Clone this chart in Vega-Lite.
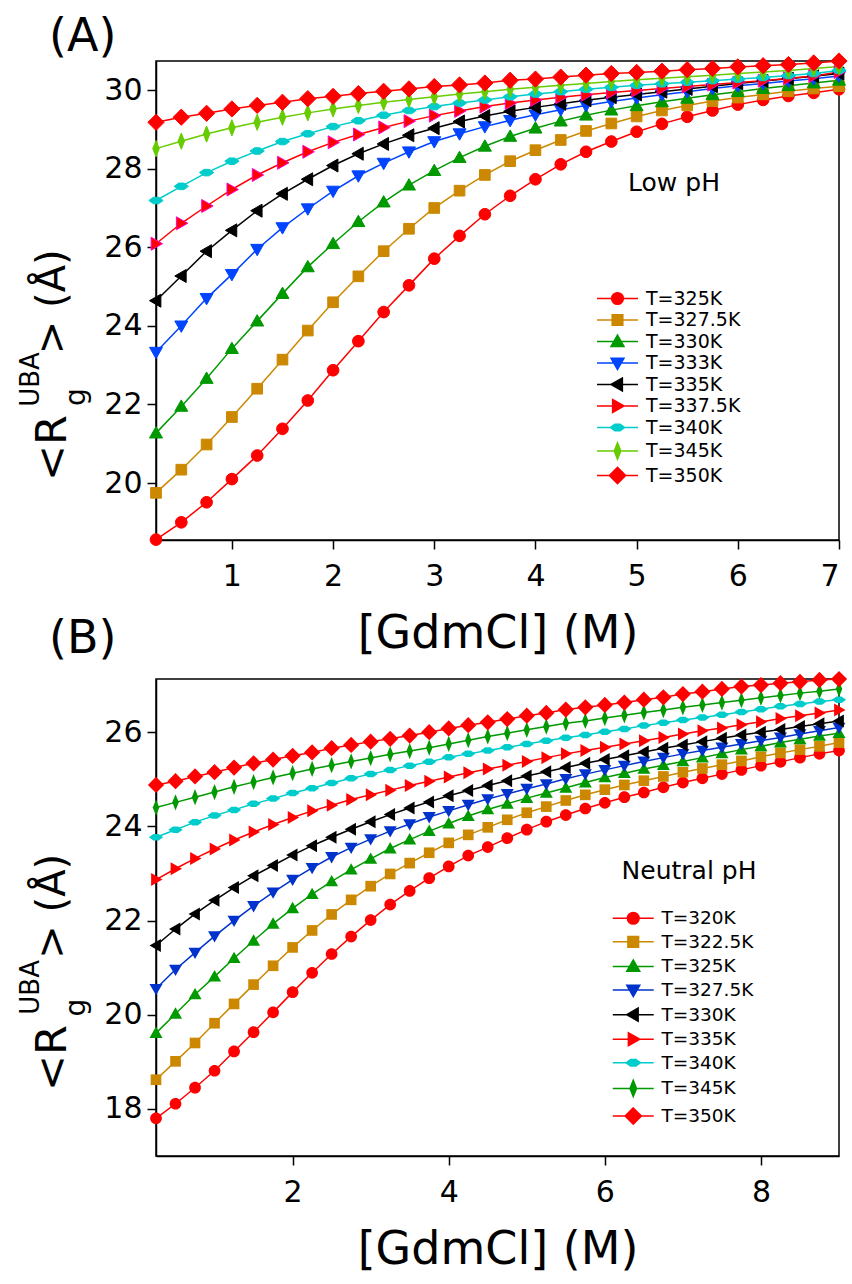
{
"$schema":"https://vega.github.io/schema/vega-lite/v6.json",
"padding":{"left":17,"top":13,"right":4,"bottom":4},
"spacing":139,
"bounds":"flush",
"datasets":{
"a":[
{"s":"T=325K","x":0.25,"y":18.56},{"s":"T=325K","x":0.5,"y":19.0},{"s":"T=325K","x":0.75,"y":19.51},{"s":"T=325K","x":1,"y":20.1},{"s":"T=325K","x":1.25,"y":20.7},{"s":"T=325K","x":1.5,"y":21.38},{"s":"T=325K","x":1.75,"y":22.1},{"s":"T=325K","x":2,"y":22.87},{"s":"T=325K","x":2.25,"y":23.61},{"s":"T=325K","x":2.5,"y":24.35},{"s":"T=325K","x":2.75,"y":25.03},{"s":"T=325K","x":3,"y":25.71},{"s":"T=325K","x":3.25,"y":26.29},{"s":"T=325K","x":3.5,"y":26.84},{"s":"T=325K","x":3.75,"y":27.31},{"s":"T=325K","x":4,"y":27.73},{"s":"T=325K","x":4.25,"y":28.11},{"s":"T=325K","x":4.5,"y":28.43},{"s":"T=325K","x":4.75,"y":28.69},{"s":"T=325K","x":5,"y":28.94},{"s":"T=325K","x":5.25,"y":29.14},{"s":"T=325K","x":5.5,"y":29.32},{"s":"T=325K","x":5.75,"y":29.48},{"s":"T=325K","x":6,"y":29.63},{"s":"T=325K","x":6.25,"y":29.75},{"s":"T=325K","x":6.5,"y":29.85},{"s":"T=325K","x":6.75,"y":29.93},{"s":"T=325K","x":7,"y":30.02},
{"s":"T=327.5K","x":0.25,"y":19.75},{"s":"T=327.5K","x":0.5,"y":20.34},{"s":"T=327.5K","x":0.75,"y":20.98},{"s":"T=327.5K","x":1,"y":21.68},{"s":"T=327.5K","x":1.25,"y":22.4},{"s":"T=327.5K","x":1.5,"y":23.14},{"s":"T=327.5K","x":1.75,"y":23.88},{"s":"T=327.5K","x":2,"y":24.6},{"s":"T=327.5K","x":2.25,"y":25.26},{"s":"T=327.5K","x":2.5,"y":25.9},{"s":"T=327.5K","x":2.75,"y":26.47},{"s":"T=327.5K","x":3,"y":27.0},{"s":"T=327.5K","x":3.25,"y":27.44},{"s":"T=327.5K","x":3.5,"y":27.84},{"s":"T=327.5K","x":3.75,"y":28.19},{"s":"T=327.5K","x":4,"y":28.47},{"s":"T=327.5K","x":4.25,"y":28.73},{"s":"T=327.5K","x":4.5,"y":28.96},{"s":"T=327.5K","x":4.75,"y":29.15},{"s":"T=327.5K","x":5,"y":29.33},{"s":"T=327.5K","x":5.25,"y":29.48},{"s":"T=327.5K","x":5.5,"y":29.61},{"s":"T=327.5K","x":5.75,"y":29.72},{"s":"T=327.5K","x":6,"y":29.81},{"s":"T=327.5K","x":6.25,"y":29.89},{"s":"T=327.5K","x":6.5,"y":29.97},{"s":"T=327.5K","x":6.75,"y":30.04},{"s":"T=327.5K","x":7,"y":30.1},
{"s":"T=330K","x":0.25,"y":21.27},{"s":"T=330K","x":0.5,"y":21.95},{"s":"T=330K","x":0.75,"y":22.66},{"s":"T=330K","x":1,"y":23.42},{"s":"T=330K","x":1.25,"y":24.12},{"s":"T=330K","x":1.5,"y":24.82},{"s":"T=330K","x":1.75,"y":25.5},{"s":"T=330K","x":2,"y":26.09},{"s":"T=330K","x":2.25,"y":26.65},{"s":"T=330K","x":2.5,"y":27.15},{"s":"T=330K","x":2.75,"y":27.58},{"s":"T=330K","x":3,"y":27.95},{"s":"T=330K","x":3.25,"y":28.28},{"s":"T=330K","x":3.5,"y":28.57},{"s":"T=330K","x":3.75,"y":28.82},{"s":"T=330K","x":4,"y":29.03},{"s":"T=330K","x":4.25,"y":29.21},{"s":"T=330K","x":4.5,"y":29.36},{"s":"T=330K","x":4.75,"y":29.49},{"s":"T=330K","x":5,"y":29.6},{"s":"T=330K","x":5.25,"y":29.7},{"s":"T=330K","x":5.5,"y":29.79},{"s":"T=330K","x":5.75,"y":29.88},{"s":"T=330K","x":6,"y":29.96},{"s":"T=330K","x":6.25,"y":30.04},{"s":"T=330K","x":6.5,"y":30.11},{"s":"T=330K","x":6.75,"y":30.18},{"s":"T=330K","x":7,"y":30.25},
{"s":"T=333K","x":0.25,"y":23.33},{"s":"T=333K","x":0.5,"y":24.0},{"s":"T=333K","x":0.75,"y":24.7},{"s":"T=333K","x":1,"y":25.31},{"s":"T=333K","x":1.25,"y":25.95},{"s":"T=333K","x":1.5,"y":26.5},{"s":"T=333K","x":1.75,"y":26.98},{"s":"T=333K","x":2,"y":27.43},{"s":"T=333K","x":2.25,"y":27.82},{"s":"T=333K","x":2.5,"y":28.14},{"s":"T=333K","x":2.75,"y":28.43},{"s":"T=333K","x":3,"y":28.69},{"s":"T=333K","x":3.25,"y":28.89},{"s":"T=333K","x":3.5,"y":29.07},{"s":"T=333K","x":3.75,"y":29.23},{"s":"T=333K","x":4,"y":29.37},{"s":"T=333K","x":4.25,"y":29.5},{"s":"T=333K","x":4.5,"y":29.61},{"s":"T=333K","x":4.75,"y":29.71},{"s":"T=333K","x":5,"y":29.8},{"s":"T=333K","x":5.25,"y":29.88},{"s":"T=333K","x":5.5,"y":29.96},{"s":"T=333K","x":5.75,"y":30.04},{"s":"T=333K","x":6,"y":30.11},{"s":"T=333K","x":6.25,"y":30.17},{"s":"T=333K","x":6.5,"y":30.23},{"s":"T=333K","x":6.75,"y":30.29},{"s":"T=333K","x":7,"y":30.36},
{"s":"T=335K","x":0.25,"y":24.64},{"s":"T=335K","x":0.5,"y":25.27},{"s":"T=335K","x":0.75,"y":25.9},{"s":"T=335K","x":1,"y":26.43},{"s":"T=335K","x":1.25,"y":26.93},{"s":"T=335K","x":1.5,"y":27.36},{"s":"T=335K","x":1.75,"y":27.73},{"s":"T=335K","x":2,"y":28.08},{"s":"T=335K","x":2.25,"y":28.38},{"s":"T=335K","x":2.5,"y":28.63},{"s":"T=335K","x":2.75,"y":28.85},{"s":"T=335K","x":3,"y":29.03},{"s":"T=335K","x":3.25,"y":29.2},{"s":"T=335K","x":3.5,"y":29.34},{"s":"T=335K","x":3.75,"y":29.46},{"s":"T=335K","x":4,"y":29.56},{"s":"T=335K","x":4.25,"y":29.65},{"s":"T=335K","x":4.5,"y":29.74},{"s":"T=335K","x":4.75,"y":29.82},{"s":"T=335K","x":5,"y":29.89},{"s":"T=335K","x":5.25,"y":29.96},{"s":"T=335K","x":5.5,"y":30.03},{"s":"T=335K","x":5.75,"y":30.1},{"s":"T=335K","x":6,"y":30.17},{"s":"T=335K","x":6.25,"y":30.23},{"s":"T=335K","x":6.5,"y":30.29},{"s":"T=335K","x":6.75,"y":30.35},{"s":"T=335K","x":7,"y":30.42},
{"s":"T=337.5K","x":0.25,"y":26.09},{"s":"T=337.5K","x":0.5,"y":26.61},{"s":"T=337.5K","x":0.75,"y":27.05},{"s":"T=337.5K","x":1,"y":27.47},{"s":"T=337.5K","x":1.25,"y":27.84},{"s":"T=337.5K","x":1.5,"y":28.15},{"s":"T=337.5K","x":1.75,"y":28.43},{"s":"T=337.5K","x":2,"y":28.67},{"s":"T=337.5K","x":2.25,"y":28.87},{"s":"T=337.5K","x":2.5,"y":29.05},{"s":"T=337.5K","x":2.75,"y":29.21},{"s":"T=337.5K","x":3,"y":29.35},{"s":"T=337.5K","x":3.25,"y":29.47},{"s":"T=337.5K","x":3.5,"y":29.58},{"s":"T=337.5K","x":3.75,"y":29.67},{"s":"T=337.5K","x":4,"y":29.75},{"s":"T=337.5K","x":4.25,"y":29.82},{"s":"T=337.5K","x":4.5,"y":29.88},{"s":"T=337.5K","x":4.75,"y":29.94},{"s":"T=337.5K","x":5,"y":29.99},{"s":"T=337.5K","x":5.25,"y":30.04},{"s":"T=337.5K","x":5.5,"y":30.09},{"s":"T=337.5K","x":5.75,"y":30.14},{"s":"T=337.5K","x":6,"y":30.19},{"s":"T=337.5K","x":6.25,"y":30.24},{"s":"T=337.5K","x":6.5,"y":30.3},{"s":"T=337.5K","x":6.75,"y":30.36},{"s":"T=337.5K","x":7,"y":30.46},
{"s":"T=340K","x":0.25,"y":27.19},{"s":"T=340K","x":0.5,"y":27.55},{"s":"T=340K","x":0.75,"y":27.9},{"s":"T=340K","x":1,"y":28.19},{"s":"T=340K","x":1.25,"y":28.45},{"s":"T=340K","x":1.5,"y":28.69},{"s":"T=340K","x":1.75,"y":28.89},{"s":"T=340K","x":2,"y":29.07},{"s":"T=340K","x":2.25,"y":29.22},{"s":"T=340K","x":2.5,"y":29.36},{"s":"T=340K","x":2.75,"y":29.48},{"s":"T=340K","x":3,"y":29.58},{"s":"T=340K","x":3.25,"y":29.67},{"s":"T=340K","x":3.5,"y":29.75},{"s":"T=340K","x":3.75,"y":29.83},{"s":"T=340K","x":4,"y":29.9},{"s":"T=340K","x":4.25,"y":29.96},{"s":"T=340K","x":4.5,"y":30.02},{"s":"T=340K","x":4.75,"y":30.07},{"s":"T=340K","x":5,"y":30.12},{"s":"T=340K","x":5.25,"y":30.16},{"s":"T=340K","x":5.5,"y":30.2},{"s":"T=340K","x":5.75,"y":30.24},{"s":"T=340K","x":6,"y":30.28},{"s":"T=340K","x":6.25,"y":30.32},{"s":"T=340K","x":6.5,"y":30.37},{"s":"T=340K","x":6.75,"y":30.42},{"s":"T=340K","x":7,"y":30.5},
{"s":"T=345K","x":0.25,"y":28.51},{"s":"T=345K","x":0.5,"y":28.7},{"s":"T=345K","x":0.75,"y":28.88},{"s":"T=345K","x":1,"y":29.04},{"s":"T=345K","x":1.25,"y":29.18},{"s":"T=345K","x":1.5,"y":29.31},{"s":"T=345K","x":1.75,"y":29.42},{"s":"T=345K","x":2,"y":29.52},{"s":"T=345K","x":2.25,"y":29.61},{"s":"T=345K","x":2.5,"y":29.69},{"s":"T=345K","x":2.75,"y":29.76},{"s":"T=345K","x":3,"y":29.83},{"s":"T=345K","x":3.25,"y":29.9},{"s":"T=345K","x":3.5,"y":29.96},{"s":"T=345K","x":3.75,"y":30.02},{"s":"T=345K","x":4,"y":30.07},{"s":"T=345K","x":4.25,"y":30.12},{"s":"T=345K","x":4.5,"y":30.17},{"s":"T=345K","x":4.75,"y":30.22},{"s":"T=345K","x":5,"y":30.26},{"s":"T=345K","x":5.25,"y":30.3},{"s":"T=345K","x":5.5,"y":30.34},{"s":"T=345K","x":5.75,"y":30.38},{"s":"T=345K","x":6,"y":30.42},{"s":"T=345K","x":6.25,"y":30.46},{"s":"T=345K","x":6.5,"y":30.5},{"s":"T=345K","x":6.75,"y":30.55},{"s":"T=345K","x":7,"y":30.6},
{"s":"T=350K","x":0.25,"y":29.18},{"s":"T=350K","x":0.5,"y":29.31},{"s":"T=350K","x":0.75,"y":29.41},{"s":"T=350K","x":1,"y":29.52},{"s":"T=350K","x":1.25,"y":29.61},{"s":"T=350K","x":1.5,"y":29.69},{"s":"T=350K","x":1.75,"y":29.78},{"s":"T=350K","x":2,"y":29.84},{"s":"T=350K","x":2.25,"y":29.91},{"s":"T=350K","x":2.5,"y":29.97},{"s":"T=350K","x":2.75,"y":30.03},{"s":"T=350K","x":3,"y":30.09},{"s":"T=350K","x":3.25,"y":30.13},{"s":"T=350K","x":3.5,"y":30.18},{"s":"T=350K","x":3.75,"y":30.25},{"s":"T=350K","x":4,"y":30.28},{"s":"T=350K","x":4.25,"y":30.33},{"s":"T=350K","x":4.5,"y":30.38},{"s":"T=350K","x":4.75,"y":30.42},{"s":"T=350K","x":5,"y":30.45},{"s":"T=350K","x":5.25,"y":30.48},{"s":"T=350K","x":5.5,"y":30.52},{"s":"T=350K","x":5.75,"y":30.55},{"s":"T=350K","x":6,"y":30.59},{"s":"T=350K","x":6.25,"y":30.62},{"s":"T=350K","x":6.5,"y":30.65},{"s":"T=350K","x":6.75,"y":30.69},{"s":"T=350K","x":7,"y":30.74}
],
"b":[
{"s":"T=320K","x":0.25,"y":17.8},{"s":"T=320K","x":0.5,"y":18.11},{"s":"T=320K","x":0.75,"y":18.45},{"s":"T=320K","x":1,"y":18.81},{"s":"T=320K","x":1.25,"y":19.22},{"s":"T=320K","x":1.5,"y":19.63},{"s":"T=320K","x":1.75,"y":20.05},{"s":"T=320K","x":2,"y":20.48},{"s":"T=320K","x":2.25,"y":20.89},{"s":"T=320K","x":2.5,"y":21.29},{"s":"T=320K","x":2.75,"y":21.66},{"s":"T=320K","x":3,"y":22.01},{"s":"T=320K","x":3.25,"y":22.34},{"s":"T=320K","x":3.5,"y":22.63},{"s":"T=320K","x":3.75,"y":22.9},{"s":"T=320K","x":4,"y":23.15},{"s":"T=320K","x":4.25,"y":23.38},{"s":"T=320K","x":4.5,"y":23.56},{"s":"T=320K","x":4.75,"y":23.75},{"s":"T=320K","x":5,"y":23.93},{"s":"T=320K","x":5.25,"y":24.1},{"s":"T=320K","x":5.5,"y":24.24},{"s":"T=320K","x":5.75,"y":24.38},{"s":"T=320K","x":6,"y":24.5},{"s":"T=320K","x":6.25,"y":24.62},{"s":"T=320K","x":6.5,"y":24.72},{"s":"T=320K","x":6.75,"y":24.83},{"s":"T=320K","x":7,"y":24.93},{"s":"T=320K","x":7.25,"y":25.02},{"s":"T=320K","x":7.5,"y":25.11},{"s":"T=320K","x":7.75,"y":25.2},{"s":"T=320K","x":8,"y":25.29},{"s":"T=320K","x":8.25,"y":25.37},{"s":"T=320K","x":8.5,"y":25.46},{"s":"T=320K","x":8.75,"y":25.54},{"s":"T=320K","x":9,"y":25.61},
{"s":"T=322.5K","x":0.25,"y":18.62},{"s":"T=322.5K","x":0.5,"y":19.01},{"s":"T=322.5K","x":0.75,"y":19.4},{"s":"T=322.5K","x":1,"y":19.82},{"s":"T=322.5K","x":1.25,"y":20.23},{"s":"T=322.5K","x":1.5,"y":20.64},{"s":"T=322.5K","x":1.75,"y":21.04},{"s":"T=322.5K","x":2,"y":21.43},{"s":"T=322.5K","x":2.25,"y":21.79},{"s":"T=322.5K","x":2.5,"y":22.13},{"s":"T=322.5K","x":2.75,"y":22.44},{"s":"T=322.5K","x":3,"y":22.73},{"s":"T=322.5K","x":3.25,"y":22.99},{"s":"T=322.5K","x":3.5,"y":23.22},{"s":"T=322.5K","x":3.75,"y":23.44},{"s":"T=322.5K","x":4,"y":23.65},{"s":"T=322.5K","x":4.25,"y":23.82},{"s":"T=322.5K","x":4.5,"y":23.98},{"s":"T=322.5K","x":4.75,"y":24.14},{"s":"T=322.5K","x":5,"y":24.29},{"s":"T=322.5K","x":5.25,"y":24.42},{"s":"T=322.5K","x":5.5,"y":24.55},{"s":"T=322.5K","x":5.75,"y":24.67},{"s":"T=322.5K","x":6,"y":24.78},{"s":"T=322.5K","x":6.25,"y":24.88},{"s":"T=322.5K","x":6.5,"y":24.97},{"s":"T=322.5K","x":6.75,"y":25.06},{"s":"T=322.5K","x":7,"y":25.15},{"s":"T=322.5K","x":7.25,"y":25.23},{"s":"T=322.5K","x":7.5,"y":25.31},{"s":"T=322.5K","x":7.75,"y":25.39},{"s":"T=322.5K","x":8,"y":25.48},{"s":"T=322.5K","x":8.25,"y":25.56},{"s":"T=322.5K","x":8.5,"y":25.63},{"s":"T=322.5K","x":8.75,"y":25.7},{"s":"T=322.5K","x":9,"y":25.78},
{"s":"T=325K","x":0.25,"y":19.61},{"s":"T=325K","x":0.5,"y":20.02},{"s":"T=325K","x":0.75,"y":20.43},{"s":"T=325K","x":1,"y":20.81},{"s":"T=325K","x":1.25,"y":21.2},{"s":"T=325K","x":1.5,"y":21.57},{"s":"T=325K","x":1.75,"y":21.93},{"s":"T=325K","x":2,"y":22.26},{"s":"T=325K","x":2.25,"y":22.56},{"s":"T=325K","x":2.5,"y":22.83},{"s":"T=325K","x":2.75,"y":23.08},{"s":"T=325K","x":3,"y":23.31},{"s":"T=325K","x":3.25,"y":23.53},{"s":"T=325K","x":3.5,"y":23.72},{"s":"T=325K","x":3.75,"y":23.9},{"s":"T=325K","x":4,"y":24.06},{"s":"T=325K","x":4.25,"y":24.22},{"s":"T=325K","x":4.5,"y":24.36},{"s":"T=325K","x":4.75,"y":24.48},{"s":"T=325K","x":5,"y":24.6},{"s":"T=325K","x":5.25,"y":24.71},{"s":"T=325K","x":5.5,"y":24.82},{"s":"T=325K","x":5.75,"y":24.93},{"s":"T=325K","x":6,"y":25.04},{"s":"T=325K","x":6.25,"y":25.13},{"s":"T=325K","x":6.5,"y":25.22},{"s":"T=325K","x":6.75,"y":25.3},{"s":"T=325K","x":7,"y":25.38},{"s":"T=325K","x":7.25,"y":25.46},{"s":"T=325K","x":7.5,"y":25.55},{"s":"T=325K","x":7.75,"y":25.63},{"s":"T=325K","x":8,"y":25.7},{"s":"T=325K","x":8.25,"y":25.78},{"s":"T=325K","x":8.5,"y":25.85},{"s":"T=325K","x":8.75,"y":25.92},{"s":"T=325K","x":9,"y":25.98},
{"s":"T=327.5K","x":0.25,"y":20.55},{"s":"T=327.5K","x":0.5,"y":20.96},{"s":"T=327.5K","x":0.75,"y":21.32},{"s":"T=327.5K","x":1,"y":21.67},{"s":"T=327.5K","x":1.25,"y":22.0},{"s":"T=327.5K","x":1.5,"y":22.31},{"s":"T=327.5K","x":1.75,"y":22.6},{"s":"T=327.5K","x":2,"y":22.87},{"s":"T=327.5K","x":2.25,"y":23.12},{"s":"T=327.5K","x":2.5,"y":23.35},{"s":"T=327.5K","x":2.75,"y":23.55},{"s":"T=327.5K","x":3,"y":23.73},{"s":"T=327.5K","x":3.25,"y":23.9},{"s":"T=327.5K","x":3.5,"y":24.05},{"s":"T=327.5K","x":3.75,"y":24.2},{"s":"T=327.5K","x":4,"y":24.33},{"s":"T=327.5K","x":4.25,"y":24.46},{"s":"T=327.5K","x":4.5,"y":24.58},{"s":"T=327.5K","x":4.75,"y":24.69},{"s":"T=327.5K","x":5,"y":24.8},{"s":"T=327.5K","x":5.25,"y":24.9},{"s":"T=327.5K","x":5.5,"y":25.01},{"s":"T=327.5K","x":5.75,"y":25.11},{"s":"T=327.5K","x":6,"y":25.2},{"s":"T=327.5K","x":6.25,"y":25.29},{"s":"T=327.5K","x":6.5,"y":25.38},{"s":"T=327.5K","x":6.75,"y":25.46},{"s":"T=327.5K","x":7,"y":25.54},{"s":"T=327.5K","x":7.25,"y":25.61},{"s":"T=327.5K","x":7.5,"y":25.68},{"s":"T=327.5K","x":7.75,"y":25.75},{"s":"T=327.5K","x":8,"y":25.82},{"s":"T=327.5K","x":8.25,"y":25.89},{"s":"T=327.5K","x":8.5,"y":25.96},{"s":"T=327.5K","x":8.75,"y":26.03},{"s":"T=327.5K","x":9,"y":26.1},
{"s":"T=330K","x":0.25,"y":21.47},{"s":"T=330K","x":0.5,"y":21.82},{"s":"T=330K","x":0.75,"y":22.14},{"s":"T=330K","x":1,"y":22.43},{"s":"T=330K","x":1.25,"y":22.7},{"s":"T=330K","x":1.5,"y":22.95},{"s":"T=330K","x":1.75,"y":23.17},{"s":"T=330K","x":2,"y":23.39},{"s":"T=330K","x":2.25,"y":23.59},{"s":"T=330K","x":2.5,"y":23.77},{"s":"T=330K","x":2.75,"y":23.94},{"s":"T=330K","x":3,"y":24.1},{"s":"T=330K","x":3.25,"y":24.25},{"s":"T=330K","x":3.5,"y":24.39},{"s":"T=330K","x":3.75,"y":24.52},{"s":"T=330K","x":4,"y":24.65},{"s":"T=330K","x":4.25,"y":24.76},{"s":"T=330K","x":4.5,"y":24.87},{"s":"T=330K","x":4.75,"y":24.97},{"s":"T=330K","x":5,"y":25.07},{"s":"T=330K","x":5.25,"y":25.16},{"s":"T=330K","x":5.5,"y":25.25},{"s":"T=330K","x":5.75,"y":25.34},{"s":"T=330K","x":6,"y":25.42},{"s":"T=330K","x":6.25,"y":25.5},{"s":"T=330K","x":6.5,"y":25.58},{"s":"T=330K","x":6.75,"y":25.66},{"s":"T=330K","x":7,"y":25.73},{"s":"T=330K","x":7.25,"y":25.8},{"s":"T=330K","x":7.5,"y":25.87},{"s":"T=330K","x":7.75,"y":25.94},{"s":"T=330K","x":8,"y":26.0},{"s":"T=330K","x":8.25,"y":26.06},{"s":"T=330K","x":8.5,"y":26.12},{"s":"T=330K","x":8.75,"y":26.18},{"s":"T=330K","x":9,"y":26.24},
{"s":"T=335K","x":0.25,"y":22.87},{"s":"T=335K","x":0.5,"y":23.1},{"s":"T=335K","x":0.75,"y":23.32},{"s":"T=335K","x":1,"y":23.52},{"s":"T=335K","x":1.25,"y":23.71},{"s":"T=335K","x":1.5,"y":23.88},{"s":"T=335K","x":1.75,"y":24.04},{"s":"T=335K","x":2,"y":24.19},{"s":"T=335K","x":2.25,"y":24.33},{"s":"T=335K","x":2.5,"y":24.45},{"s":"T=335K","x":2.75,"y":24.57},{"s":"T=335K","x":3,"y":24.67},{"s":"T=335K","x":3.25,"y":24.77},{"s":"T=335K","x":3.5,"y":24.87},{"s":"T=335K","x":3.75,"y":24.96},{"s":"T=335K","x":4,"y":25.05},{"s":"T=335K","x":4.25,"y":25.14},{"s":"T=335K","x":4.5,"y":25.22},{"s":"T=335K","x":4.75,"y":25.3},{"s":"T=335K","x":5,"y":25.38},{"s":"T=335K","x":5.25,"y":25.46},{"s":"T=335K","x":5.5,"y":25.54},{"s":"T=335K","x":5.75,"y":25.61},{"s":"T=335K","x":6,"y":25.68},{"s":"T=335K","x":6.25,"y":25.75},{"s":"T=335K","x":6.5,"y":25.82},{"s":"T=335K","x":6.75,"y":25.89},{"s":"T=335K","x":7,"y":25.96},{"s":"T=335K","x":7.25,"y":26.03},{"s":"T=335K","x":7.5,"y":26.09},{"s":"T=335K","x":7.75,"y":26.16},{"s":"T=335K","x":8,"y":26.22},{"s":"T=335K","x":8.25,"y":26.29},{"s":"T=335K","x":8.5,"y":26.35},{"s":"T=335K","x":8.75,"y":26.41},{"s":"T=335K","x":9,"y":26.47},
{"s":"T=340K","x":0.25,"y":23.77},{"s":"T=340K","x":0.5,"y":23.93},{"s":"T=340K","x":0.75,"y":24.09},{"s":"T=340K","x":1,"y":24.23},{"s":"T=340K","x":1.25,"y":24.35},{"s":"T=340K","x":1.5,"y":24.48},{"s":"T=340K","x":1.75,"y":24.59},{"s":"T=340K","x":2,"y":24.71},{"s":"T=340K","x":2.25,"y":24.81},{"s":"T=340K","x":2.5,"y":24.92},{"s":"T=340K","x":2.75,"y":25.02},{"s":"T=340K","x":3,"y":25.11},{"s":"T=340K","x":3.25,"y":25.2},{"s":"T=340K","x":3.5,"y":25.29},{"s":"T=340K","x":3.75,"y":25.37},{"s":"T=340K","x":4,"y":25.47},{"s":"T=340K","x":4.25,"y":25.54},{"s":"T=340K","x":4.5,"y":25.61},{"s":"T=340K","x":4.75,"y":25.68},{"s":"T=340K","x":5,"y":25.75},{"s":"T=340K","x":5.25,"y":25.82},{"s":"T=340K","x":5.5,"y":25.88},{"s":"T=340K","x":5.75,"y":25.94},{"s":"T=340K","x":6,"y":26.01},{"s":"T=340K","x":6.25,"y":26.07},{"s":"T=340K","x":6.5,"y":26.14},{"s":"T=340K","x":6.75,"y":26.2},{"s":"T=340K","x":7,"y":26.26},{"s":"T=340K","x":7.25,"y":26.31},{"s":"T=340K","x":7.5,"y":26.37},{"s":"T=340K","x":7.75,"y":26.43},{"s":"T=340K","x":8,"y":26.49},{"s":"T=340K","x":8.25,"y":26.55},{"s":"T=340K","x":8.5,"y":26.6},{"s":"T=340K","x":8.75,"y":26.65},{"s":"T=340K","x":9,"y":26.69},
{"s":"T=345K","x":0.25,"y":24.4},{"s":"T=345K","x":0.5,"y":24.51},{"s":"T=345K","x":0.75,"y":24.62},{"s":"T=345K","x":1,"y":24.73},{"s":"T=345K","x":1.25,"y":24.84},{"s":"T=345K","x":1.5,"y":24.94},{"s":"T=345K","x":1.75,"y":25.04},{"s":"T=345K","x":2,"y":25.13},{"s":"T=345K","x":2.25,"y":25.22},{"s":"T=345K","x":2.5,"y":25.3},{"s":"T=345K","x":2.75,"y":25.38},{"s":"T=345K","x":3,"y":25.45},{"s":"T=345K","x":3.25,"y":25.53},{"s":"T=345K","x":3.5,"y":25.6},{"s":"T=345K","x":3.75,"y":25.67},{"s":"T=345K","x":4,"y":25.75},{"s":"T=345K","x":4.25,"y":25.83},{"s":"T=345K","x":4.5,"y":25.91},{"s":"T=345K","x":4.75,"y":25.98},{"s":"T=345K","x":5,"y":26.05},{"s":"T=345K","x":5.25,"y":26.12},{"s":"T=345K","x":5.5,"y":26.19},{"s":"T=345K","x":5.75,"y":26.24},{"s":"T=345K","x":6,"y":26.3},{"s":"T=345K","x":6.25,"y":26.36},{"s":"T=345K","x":6.5,"y":26.42},{"s":"T=345K","x":6.75,"y":26.47},{"s":"T=345K","x":7,"y":26.53},{"s":"T=345K","x":7.25,"y":26.58},{"s":"T=345K","x":7.5,"y":26.63},{"s":"T=345K","x":7.75,"y":26.68},{"s":"T=345K","x":8,"y":26.73},{"s":"T=345K","x":8.25,"y":26.78},{"s":"T=345K","x":8.5,"y":26.83},{"s":"T=345K","x":8.75,"y":26.87},{"s":"T=345K","x":9,"y":26.92},
{"s":"T=350K","x":0.25,"y":24.88},{"s":"T=350K","x":0.5,"y":24.96},{"s":"T=350K","x":0.75,"y":25.06},{"s":"T=350K","x":1,"y":25.15},{"s":"T=350K","x":1.25,"y":25.25},{"s":"T=350K","x":1.5,"y":25.34},{"s":"T=350K","x":1.75,"y":25.42},{"s":"T=350K","x":2,"y":25.5},{"s":"T=350K","x":2.25,"y":25.57},{"s":"T=350K","x":2.5,"y":25.66},{"s":"T=350K","x":2.75,"y":25.73},{"s":"T=350K","x":3,"y":25.8},{"s":"T=350K","x":3.25,"y":25.86},{"s":"T=350K","x":3.5,"y":25.93},{"s":"T=350K","x":3.75,"y":26.0},{"s":"T=350K","x":4,"y":26.08},{"s":"T=350K","x":4.25,"y":26.15},{"s":"T=350K","x":4.5,"y":26.21},{"s":"T=350K","x":4.75,"y":26.28},{"s":"T=350K","x":5,"y":26.35},{"s":"T=350K","x":5.25,"y":26.41},{"s":"T=350K","x":5.5,"y":26.48},{"s":"T=350K","x":5.75,"y":26.53},{"s":"T=350K","x":6,"y":26.58},{"s":"T=350K","x":6.25,"y":26.63},{"s":"T=350K","x":6.5,"y":26.69},{"s":"T=350K","x":6.75,"y":26.74},{"s":"T=350K","x":7,"y":26.81},{"s":"T=350K","x":7.25,"y":26.86},{"s":"T=350K","x":7.5,"y":26.92},{"s":"T=350K","x":7.75,"y":26.97},{"s":"T=350K","x":8,"y":27.0},{"s":"T=350K","x":8.25,"y":27.04},{"s":"T=350K","x":8.5,"y":27.07},{"s":"T=350K","x":8.75,"y":27.11},{"s":"T=350K","x":9,"y":27.13}
]
},
"vconcat":[
{
"width":683,"height":479,
"title":{"text":"(A)","anchor":"start","frame":"group","dx":-107,"offset":-10,"fontSize":46,"font":"DejaVu Sans","fontWeight":"normal","color":"#000"},
"data":{"name":"a"},
"layer":[
{"mark":{"type":"line","strokeWidth":1.5},
 "encoding":{
  "x":{"field":"x","type":"quantitative","scale":{"domain":[0.25,7],"nice":false,"zero":false},"axis":{"values":[1,2,3,4,5,6,7],"format":"d","title":"[GdmCl] (M)"}},
  "y":{"field":"y","type":"quantitative","scale":{"domain":[18.55,30.74],"nice":false,"zero":false},"axis":{"values":[20,22,24,26,28,30],"format":"d","title":null}},
  "color":{"field":"s","type":"nominal","legend":null,"scale":{"domain":["T=325K","T=327.5K","T=330K","T=333K","T=335K","T=337.5K","T=340K","T=345K","T=350K"],"range":["#FF0000","#CC8800","#009900","#0044FF","#000000","#FF0000","#00CCCC","#66CC00","#FF0000"]}}
 }},
{"mark":{"type":"point","filled":true,"size":169,"opacity":1,"strokeWidth":1},
 "encoding":{
  "x":{"field":"x","type":"quantitative","scale":{"domain":[0.25,7],"nice":false,"zero":false}},
  "y":{"field":"y","type":"quantitative","scale":{"domain":[18.55,30.74],"nice":false,"zero":false}},
  "color":{"field":"s","type":"nominal","legend":null,"scale":{"domain":["T=325K","T=327.5K","T=330K","T=333K","T=335K","T=337.5K","T=340K","T=345K","T=350K"],"range":["#FF0000","#CC8800","#009900","#0044FF","#000000","#FF0000","#00CCCC","#66CC00","#FF0000"]}},
  "stroke":{"field":"s","type":"nominal","legend":null,"scale":{"domain":["T=325K","T=327.5K","T=330K","T=333K","T=335K","T=337.5K","T=340K","T=345K","T=350K"],"range":["#FF0000","#CC8800","#009900","#0044FF","#000000","#FF00CC","#00CCCC","#66CC00","#FF0000"]}},
  "shape":{"field":"s","type":"nominal","legend":null,"scale":{"domain":["T=325K","T=327.5K","T=330K","T=333K","T=335K","T=337.5K","T=340K","T=345K","T=350K"],"range":["M0.9,0A0.9,0.9,0,1,1,-0.9,0A0.9,0.9,0,1,1,0.9,0Z","M-0.82,-0.82H0.82V0.82H-0.82Z","M0,-1L1,0.75H-1Z","M0,1L1,-0.75H-1Z","M-1,0L0.75,-1V1Z","M1,0L-0.75,-1V1Z","M-1.1,0L-0.4,-0.5H0.4L1.1,0L0.4,0.5H-0.4Z","M0,-1.25L0.5,0L0,1.25L-0.5,0Z","M0,-1.25L1.25,0L0,1.25L-1.25,0Z"]}}
 }},
{"transform":[{"filter":"false"}],
 "mark":{"type":"point","filled":true,"size":169,"opacity":1,"strokeWidth":1.5},
 "encoding":{
  "x":{"field":"x","type":"quantitative","scale":{"domain":[0.25,7],"nice":false,"zero":false}},
  "y":{"field":"y","type":"quantitative","scale":{"domain":[18.55,30.74],"nice":false,"zero":false}},
  "color":{"field":"s","type":"nominal","scale":{"domain":["T=325K","T=327.5K","T=330K","T=333K","T=335K","T=337.5K","T=340K","T=345K","T=350K"],"range":["#FF0000","#CC8800","#009900","#0044FF","#000000","#FF0000","#00CCCC","#66CC00","#FF0000"]},"legend":{"title":"Low pH","orient":"none","legendX":452,"legendY":110,"titlePadding":93,"labelFontSize":19,"titleFontSize":25,"rowPadding":1.5}},
  "stroke":{"field":"s","type":"nominal","scale":{"domain":["T=325K","T=327.5K","T=330K","T=333K","T=335K","T=337.5K","T=340K","T=345K","T=350K"],"range":["#FF0000","#CC8800","#009900","#0044FF","#000000","#FF0000","#00CCCC","#66CC00","#FF0000"]},"legend":{"title":"Low pH","orient":"none","legendX":452,"legendY":110,"titlePadding":93,"labelFontSize":19,"titleFontSize":25,"rowPadding":1.5}},
  "shape":{"field":"s","type":"nominal","scale":{"domain":["T=325K","T=327.5K","T=330K","T=333K","T=335K","T=337.5K","T=340K","T=345K","T=350K"],"range":["M-3.15,0H3.15M0.9,0A0.9,0.9,0,1,1,-0.9,0A0.9,0.9,0,1,1,0.9,0Z","M-3.15,0H3.15M-0.82,-0.82H0.82V0.82H-0.82Z","M-3.15,0H3.15M0,-1L1,0.75H-1Z","M-3.15,0H3.15M0,1L1,-0.75H-1Z","M-3.15,0H3.15M-1,0L0.75,-1V1Z","M-3.15,0H3.15M1,0L-0.75,-1V1Z","M-3.15,0H3.15M-1.1,0L-0.4,-0.5H0.4L1.1,0L0.4,0.5H-0.4Z","M-3.15,0H3.15M0,-1.25L0.5,0L0,1.25L-0.5,0Z","M-3.15,0H3.15M0,-1.25L1.25,0L0,1.25L-1.25,0Z"]},"legend":{"title":"Low pH","orient":"none","legendX":452,"legendY":110,"titlePadding":93,"labelFontSize":19,"titleFontSize":25,"rowPadding":1.5}}
 }},
{"data":{"values":[{}]},"mark":{"type":"text","text":"<R","angle":270,"align":"left","baseline":"middle","fontSize":43,"font":"DejaVu Sans","color":"#000"},
 "encoding":{"x":{"datum":-0.768,"type":"quantitative","scale":{"domain":[0.25,7],"nice":false,"zero":false}},"y":{"datum":20.05,"type":"quantitative","scale":{"domain":[18.55,30.74],"nice":false,"zero":false}}}},
{"data":{"values":[{}]},"mark":{"type":"text","text":"UBA","angle":270,"align":"left","baseline":"middle","fontSize":26,"font":"DejaVu Sans","color":"#000"},
 "encoding":{"x":{"datum":-0.985,"type":"quantitative","scale":{"domain":[0.25,7],"nice":false,"zero":false}},"y":{"datum":21.94,"type":"quantitative","scale":{"domain":[18.55,30.74],"nice":false,"zero":false}}}},
{"data":{"values":[{}]},"mark":{"type":"text","text":"g","angle":270,"align":"left","baseline":"middle","fontSize":28,"font":"DejaVu Sans","color":"#000"},
 "encoding":{"x":{"datum":-0.53,"type":"quantitative","scale":{"domain":[0.25,7],"nice":false,"zero":false}},"y":{"datum":21.96,"type":"quantitative","scale":{"domain":[18.55,30.74],"nice":false,"zero":false}}}},
{"data":{"values":[{}]},"mark":{"type":"text","text":"> (Å)","angle":270,"align":"left","baseline":"middle","fontSize":40,"font":"DejaVu Sans","color":"#000"},
 "encoding":{"x":{"datum":-0.768,"type":"quantitative","scale":{"domain":[0.25,7],"nice":false,"zero":false}},"y":{"datum":23.28,"type":"quantitative","scale":{"domain":[18.55,30.74],"nice":false,"zero":false}}}}
],
"resolve":{"scale":{"color":"independent","shape":"independent","stroke":"independent"}}
},
{
"width":683,"height":477,
"title":{"text":"(B)","anchor":"start","frame":"group","dx":-107,"offset":8,"fontSize":46,"font":"DejaVu Sans","fontWeight":"normal","color":"#000"},
"data":{"name":"b"},
"layer":[
{"mark":{"type":"line","strokeWidth":1.5},
 "encoding":{
  "x":{"field":"x","type":"quantitative","scale":{"domain":[0.25,9],"nice":false,"zero":false},"axis":{"values":[2,4,6,8],"format":"d","title":"[GdmCl] (M)"}},
  "y":{"field":"y","type":"quantitative","scale":{"domain":[17,27.13],"nice":false,"zero":false},"axis":{"values":[18,20,22,24,26],"format":"d","title":null}},
  "color":{"field":"s","type":"nominal","legend":null,"scale":{"domain":["T=320K","T=322.5K","T=325K","T=327.5K","T=330K","T=335K","T=340K","T=345K","T=350K"],"range":["#FF0000","#CC8800","#009900","#0033CC","#000000","#FF0000","#00CCCC","#009900","#FF0000"]}}
 }},
{"mark":{"type":"point","filled":true,"size":169,"opacity":1,"strokeWidth":1},
 "encoding":{
  "x":{"field":"x","type":"quantitative","scale":{"domain":[0.25,9],"nice":false,"zero":false}},
  "y":{"field":"y","type":"quantitative","scale":{"domain":[17,27.13],"nice":false,"zero":false}},
  "color":{"field":"s","type":"nominal","legend":null,"scale":{"domain":["T=320K","T=322.5K","T=325K","T=327.5K","T=330K","T=335K","T=340K","T=345K","T=350K"],"range":["#FF0000","#CC8800","#009900","#0033CC","#000000","#FF0000","#00CCCC","#009900","#FF0000"]}},
  "shape":{"field":"s","type":"nominal","legend":null,"scale":{"domain":["T=320K","T=322.5K","T=325K","T=327.5K","T=330K","T=335K","T=340K","T=345K","T=350K"],"range":["M0.9,0A0.9,0.9,0,1,1,-0.9,0A0.9,0.9,0,1,1,0.9,0Z","M-0.82,-0.82H0.82V0.82H-0.82Z","M0,-1L1,0.75H-1Z","M0,1L1,-0.75H-1Z","M-1,0L0.75,-1V1Z","M1,0L-0.75,-1V1Z","M-1.1,0L-0.4,-0.5H0.4L1.1,0L0.4,0.5H-0.4Z","M0,-1.25L0.5,0L0,1.25L-0.5,0Z","M0,-1.25L1.25,0L0,1.25L-1.25,0Z"]}}
 }},
{"transform":[{"filter":"false"}],
 "mark":{"type":"point","filled":true,"size":169,"opacity":1,"strokeWidth":1.5},
 "encoding":{
  "x":{"field":"x","type":"quantitative","scale":{"domain":[0.25,9],"nice":false,"zero":false}},
  "y":{"field":"y","type":"quantitative","scale":{"domain":[17,27.13],"nice":false,"zero":false}},
  "color":{"field":"s","type":"nominal","scale":{"domain":["T=320K","T=322.5K","T=325K","T=327.5K","T=330K","T=335K","T=340K","T=345K","T=350K"],"range":["#FF0000","#CC8800","#009900","#0033CC","#000000","#FF0000","#00CCCC","#009900","#FF0000"]},"legend":{"title":"Neutral pH","orient":"none","legendX":466,"legendY":180,"titlePadding":25,"labelFontSize":18.5,"titleFontSize":25,"rowPadding":4.6}},
  "stroke":{"field":"s","type":"nominal","scale":{"domain":["T=320K","T=322.5K","T=325K","T=327.5K","T=330K","T=335K","T=340K","T=345K","T=350K"],"range":["#FF0000","#CC8800","#009900","#0033CC","#000000","#FF0000","#00CCCC","#009900","#FF0000"]},"legend":{"title":"Neutral pH","orient":"none","legendX":466,"legendY":180,"titlePadding":25,"labelFontSize":18.5,"titleFontSize":25,"rowPadding":4.6}},
  "shape":{"field":"s","type":"nominal","scale":{"domain":["T=320K","T=322.5K","T=325K","T=327.5K","T=330K","T=335K","T=340K","T=345K","T=350K"],"range":["M-3.15,0H3.15M0.9,0A0.9,0.9,0,1,1,-0.9,0A0.9,0.9,0,1,1,0.9,0Z","M-3.15,0H3.15M-0.82,-0.82H0.82V0.82H-0.82Z","M-3.15,0H3.15M0,-1L1,0.75H-1Z","M-3.15,0H3.15M0,1L1,-0.75H-1Z","M-3.15,0H3.15M-1,0L0.75,-1V1Z","M-3.15,0H3.15M1,0L-0.75,-1V1Z","M-3.15,0H3.15M-1.1,0L-0.4,-0.5H0.4L1.1,0L0.4,0.5H-0.4Z","M-3.15,0H3.15M0,-1.25L0.5,0L0,1.25L-0.5,0Z","M-3.15,0H3.15M0,-1.25L1.25,0L0,1.25L-1.25,0Z"]},"legend":{"title":"Neutral pH","orient":"none","legendX":466,"legendY":180,"titlePadding":25,"labelFontSize":18.5,"titleFontSize":25,"rowPadding":4.6}}
 }},
{"data":{"values":[{}]},"mark":{"type":"text","text":"<R","angle":270,"align":"left","baseline":"middle","fontSize":43,"font":"DejaVu Sans","color":"#000"},
 "encoding":{"x":{"datum":-1.07,"type":"quantitative","scale":{"domain":[0.25,9],"nice":false,"zero":false}},"y":{"datum":18.38,"type":"quantitative","scale":{"domain":[17,27.13],"nice":false,"zero":false}}}},
{"data":{"values":[{}]},"mark":{"type":"text","text":"UBA","angle":270,"align":"left","baseline":"middle","fontSize":26,"font":"DejaVu Sans","color":"#000"},
 "encoding":{"x":{"datum":-1.351,"type":"quantitative","scale":{"domain":[0.25,9],"nice":false,"zero":false}},"y":{"datum":20.0,"type":"quantitative","scale":{"domain":[17,27.13],"nice":false,"zero":false}}}},
{"data":{"values":[{}]},"mark":{"type":"text","text":"g","angle":270,"align":"left","baseline":"middle","fontSize":28,"font":"DejaVu Sans","color":"#000"},
 "encoding":{"x":{"datum":-0.762,"type":"quantitative","scale":{"domain":[0.25,9],"nice":false,"zero":false}},"y":{"datum":19.96,"type":"quantitative","scale":{"domain":[17,27.13],"nice":false,"zero":false}}}},
{"data":{"values":[{}]},"mark":{"type":"text","text":"> (Å)","angle":270,"align":"left","baseline":"middle","fontSize":40,"font":"DejaVu Sans","color":"#000"},
 "encoding":{"x":{"datum":-1.07,"type":"quantitative","scale":{"domain":[0.25,9],"nice":false,"zero":false}},"y":{"datum":21.19,"type":"quantitative","scale":{"domain":[17,27.13],"nice":false,"zero":false}}}}
],
"resolve":{"scale":{"color":"independent","shape":"independent","stroke":"independent"}}
}
],
"config":{
 "view":{"stroke":"#000","strokeWidth":1.5},
 "font":"DejaVu Sans",
 "axis":{"domainColor":"#000","domainWidth":1.5,"tickColor":"#000","tickWidth":1.5,"tickSize":9,"labelFontSize":30,"labelColor":"#000","labelFont":"DejaVu Sans","titleFont":"DejaVu Sans","titleFontSize":46,"titleFontWeight":"normal","titleColor":"#000","grid":false,"labelPadding":4},
 "axisX":{"labelPadding":12,"titlePadding":20},
 "axisY":{"labelPadding":5},
 "legend":{"labelFont":"DejaVu Sans","titleFont":"DejaVu Sans","titleFontWeight":"normal","titleColor":"#000","labelColor":"#000","symbolSize":169,"symbolStrokeWidth":1.5,"labelOffset":19,"titleAnchor":"middle","padding":0}
}
}
